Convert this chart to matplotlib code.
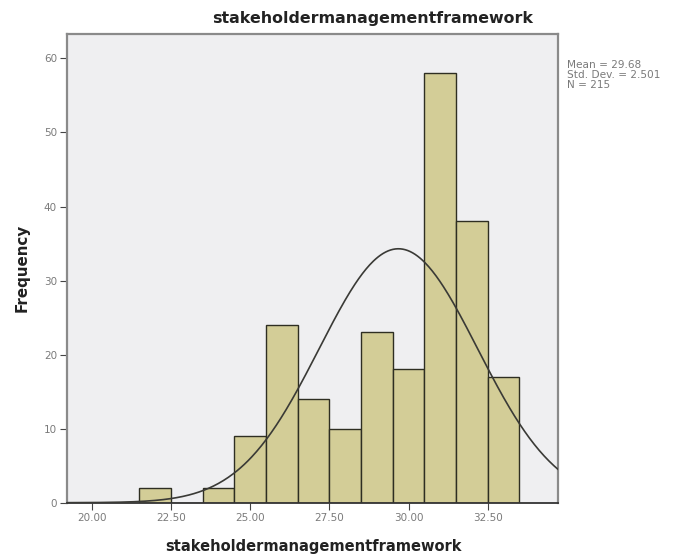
import numpy as np
import matplotlib
matplotlib.use("Agg")
import matplotlib.pyplot as plt

# Data
bin_left = [21.5, 22.5, 23.5, 24.5, 25.5, 26.5, 27.5, 28.5, 29.5, 30.5, 31.5, 32.5]
counts = [2, 0, 2, 9, 24, 14, 10, 23, 18, 58, 38, 17]
mean_val = 29.68
std_val = 2.501
n_val = 215
xticks = [20.0, 22.5, 25.0, 27.5, 30.0, 32.5]
yticks = [0, 10, 20, 30, 40, 50, 60]
title = "stakeholdermanagementframework"

fig = plt.figure(figsize=(6.78, 5.54), dpi=100)
ax = fig.add_axes([0.0993, 0.0926, 0.7233, 0.846])
ax.set_facecolor("#efeff1")

ax.bar(bin_left, counts, width=1.0, align="edge", color="#d3cd97",
       edgecolor="#2e2e22", linewidth=1.0, zorder=2)

x0, x1 = 19.23, 34.71
xs = np.linspace(x0, x1, 400)
pdf = n_val * 1.0 / (std_val * np.sqrt(2 * np.pi)) * np.exp(-0.5 * ((xs - mean_val) / std_val) ** 2)
ax.plot(xs, pdf, color="#3a3a36", linewidth=1.2, zorder=3)

ax.set_xlim(x0, x1)
ax.set_ylim(0, 63.3)
ax.set_xticks(xticks)
ax.set_xticklabels([f"{t:.2f}" for t in xticks])
ax.set_yticks(yticks)
ax.tick_params(axis="both", labelsize=7.5, labelcolor="#7a7a7a", color="#444444",
               direction="out", length=5, pad=2.5)
for s in ax.spines.values():
    s.set_color("#8a8a8a")
    s.set_linewidth(1.6)
ax.spines["bottom"].set_color("#333333")
ax.spines["bottom"].set_linewidth(1.3)

fig.text(0.462, 0.013, title, fontsize=10.5, fontweight="bold", color="#222222",
         ha="center", va="center")
fig.text(0.032, 0.517, "Frequency", fontsize=10.9, fontweight="bold", color="#222222",
         ha="center", va="center", rotation=90)
fig.text(0.549, 0.9675, title, fontsize=11.4, fontweight="bold", color="#222222",
         ha="center", va="center")

fig.text(0.836, 0.892, f"Mean = {mean_val}\nStd. Dev. = {std_val}\nN = {n_val}",
         fontsize=7.6, color="#7a7a7a", ha="left", va="top", linespacing=1.0)

fig.savefig("out.png", dpi=100, facecolor="white")
